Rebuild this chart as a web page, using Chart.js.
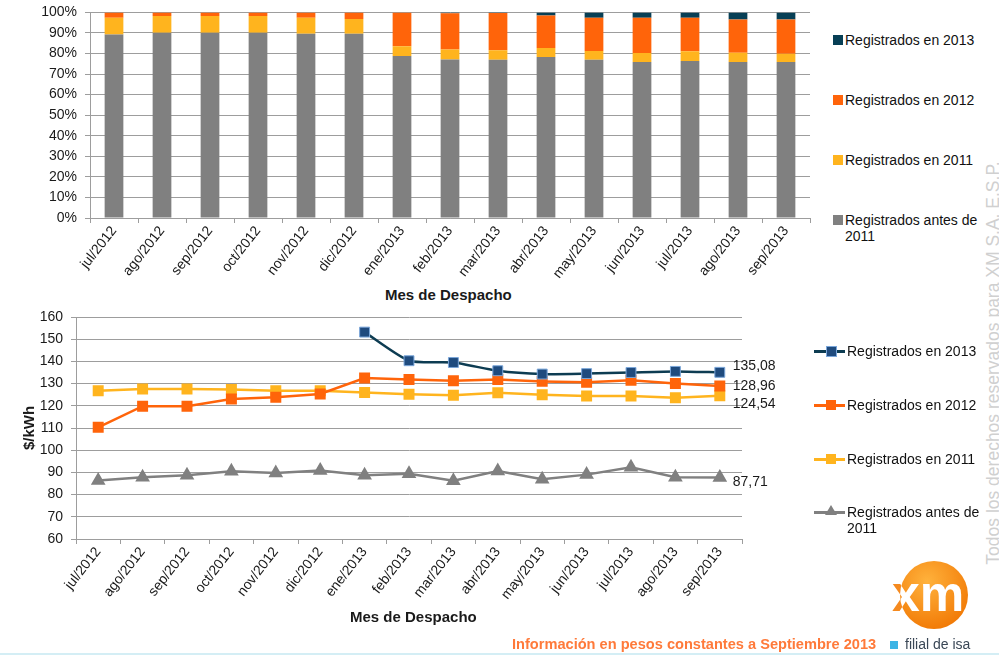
<!DOCTYPE html>
<html lang="es">
<head>
  <meta charset="UTF-8">
  <title>Registrados por año</title>
  <script src="https://cdn.jsdelivr.net/npm/chart.js"></script>
  <style>
    body { margin: 0; width: 999px; height: 656px; position: relative; overflow: hidden; background: #fff;
           font-family: 'Liberation Sans', Arial, sans-serif; color: #1a1a1a; }
    canvas { position: absolute; left: 0; }
    .abs { position: absolute; white-space: nowrap; }
    .axis-title { font-weight: bold; font-size: 15px; color: #1a1a1a; }
    .leg { position: absolute; font-size: 14px; line-height: 16px; color: #111; }
    .sq { position: absolute; width: 10px; height: 10px; }
    .ln { position: absolute; width: 31px; height: 3px; }
  </style>
</head>
<body>
  <canvas id="shareChart" width="820" height="285" style="top:-4px"></canvas>
  <div class="abs axis-title" style="left:385px;top:286px">Mes de Despacho</div>

  <!-- leyenda barras -->
  <div class="sq" style="left:833px;top:35px;background:#073f55"></div>
  <div class="leg" style="left:845px;top:32px">Registrados en 2013</div>
  <div class="sq" style="left:833px;top:95px;background:#ff640a"></div>
  <div class="leg" style="left:845px;top:92px">Registrados en 2012</div>
  <div class="sq" style="left:833px;top:155px;background:#ffb41e"></div>
  <div class="leg" style="left:845px;top:152px">Registrados en 2011</div>
  <div class="sq" style="left:833px;top:215px;background:#808080"></div>
  <div class="leg" style="left:845px;top:212px">Registrados antes de<br>2011</div>

  <canvas id="priceChart" width="820" height="340" style="top:300px"></canvas>
  <div class="abs axis-title" style="left:350px;top:608px">Mes de Despacho</div>
  <div class="abs axis-title" style="left:6px;top:420px;transform:rotate(-90deg);transform-origin:22px 8px">$/kWh</div>

  <!-- leyenda lineas -->
  <div class="ln" style="left:814px;top:350px;background:#0d3c52"></div>
  <div class="sq" style="left:826px;top:346px;background:#1f4b7e;border:1px solid #7aa6da;width:9px;height:9px"></div>
  <div class="leg" style="left:847px;top:343px">Registrados en 2013</div>
  <div class="ln" style="left:814px;top:404px;background:#ff640a"></div>
  <div class="sq" style="left:826px;top:400px;background:#ff640a"></div>
  <div class="leg" style="left:847px;top:397px">Registrados en 2012</div>
  <div class="ln" style="left:814px;top:458px;background:#ffb41e"></div>
  <div class="sq" style="left:826px;top:454px;background:#ffb41e"></div>
  <div class="leg" style="left:847px;top:451px">Registrados en 2011</div>
  <div class="ln" style="left:814px;top:511px;background:#808080"></div>
  <div class="abs" style="left:825px;top:505px;width:0;height:0;border-left:6px solid transparent;border-right:6px solid transparent;border-bottom:10px solid #808080"></div>
  <div class="leg" style="left:847px;top:504px">Registrados antes de<br>2011</div>

  <div class="abs" style="left:993px;top:363px;transform:translate(-50%,-50%) rotate(-90deg);font-size:17.5px;color:#d0d0d0">Todos los derechos reservados para XM S.A. E.S.P.</div>

  <!-- logo -->
  <svg class="abs" style="left:882px;top:555px" width="100" height="80">
    <defs>
      <radialGradient id="g" cx="0.4" cy="0.3" r="0.8">
        <stop offset="0" stop-color="#ffb23c"/>
        <stop offset="1" stop-color="#f07400"/>
      </radialGradient>
      <clipPath id="c"><circle cx="52" cy="40" r="34"/></clipPath>
    </defs>
    <circle cx="52" cy="40" r="34" fill="url(#g)"/>
    <text x="10" y="56" font-family="Liberation Sans, Arial" font-weight="bold" font-size="50" fill="#f58a1f">xm</text>
    <text x="10" y="56" font-family="Liberation Sans, Arial" font-weight="bold" font-size="50" fill="#fff" clip-path="url(#c)">xm</text>
  </svg>
  <div class="abs" style="left:512px;top:636px;font-size:14.6px;font-weight:bold;color:#ff7a3a">Información en pesos constantes a Septiembre 2013</div>
  <div class="abs" style="left:890px;top:641px;width:8px;height:8px;background:#3db4e5"></div>
  <div class="abs" style="left:905px;top:636px;font-size:14px;color:#3a4756">filial de isa</div>
  <div class="abs" style="left:0;top:653px;width:999px;height:2px;background:#d4eef5"></div>

  <script>
    const meses = ['jul/2012', 'ago/2012', 'sep/2012', 'oct/2012', 'nov/2012', 'dic/2012', 'ene/2013',
                   'feb/2013', 'mar/2013', 'abr/2013', 'may/2013', 'jun/2013', 'jul/2013', 'ago/2013', 'sep/2013'];

    // participación (%) por año de registro
    const partAntes2011 = [89.3, 90.1, 90.1, 90.1, 89.6, 89.6, 78.8, 77.1, 77.0, 78.3, 77.0, 75.9, 76.4, 75.9, 75.9];
    const part2011 = [8.1, 8.1, 8.1, 8.1, 7.8, 7.2, 4.7, 4.8, 4.6, 4.4, 4.2, 4.3, 4.7, 4.5, 4.0];
    const part2012 = [2.6, 1.8, 1.8, 1.8, 2.6, 3.2, 16.5, 17.7, 18.1, 15.8, 16.2, 17.2, 16.3, 16.2, 16.7];
    const part2013 = [0, 0, 0, 0, 0, 0, 0, 0.4, 0.3, 1.5, 2.6, 2.6, 2.6, 3.4, 3.4];

    // precios $/kWh
    const precio2013 = [null, null, null, null, null, null, 153.2, 140.3, 139.5, 135.8, 134.3, 134.5, 135.0, 135.5, 135.08];
    const precio2012 = [110.3, 119.8, 119.8, 123.1, 123.8, 125.3, 132.5, 131.8, 131.3, 131.8, 131.0, 130.6, 131.5, 130.0, 128.96];
    const precio2011 = [126.8, 127.6, 127.6, 127.3, 126.8, 126.8, 126.0, 125.2, 124.8, 125.9, 125.0, 124.4, 124.4, 123.6, 124.54];
    const precioAntes2011 = [86.3, 87.8, 88.7, 90.5, 89.7, 90.9, 88.7, 89.4, 86.2, 90.6, 86.9, 89.0, 92.3, 87.8, 87.71];

    const colores = { antes: '#808080', y2011: '#ffb41e', y2012: '#ff640a', y2013: '#073f55' };
    const gridColor = '#9d9d9d';
    const tickFont = { family: "'Liberation Sans', Arial, sans-serif", size: 14 };

    Chart.defaults.animation = false;
    Chart.defaults.color = '#1a1a1a';

    // Gráfico de barras apiladas 100%
    new Chart(document.getElementById('shareChart').getContext('2d'), {
      type: 'bar',
      data: {
        labels: meses,
        datasets: [
          { label: 'Registrados antes de 2011', data: partAntes2011, backgroundColor: colores.antes },
          { label: 'Registrados en 2011', data: part2011, backgroundColor: colores.y2011 },
          { label: 'Registrados en 2012', data: part2012, backgroundColor: colores.y2012 },
          { label: 'Registrados en 2013', data: part2013, backgroundColor: colores.y2013 }
        ]
      },
      options: {
        responsive: false,
        barPercentage: 0.39,
        categoryPercentage: 1,
        layout: { padding: { top: 8, right: 10, left: 0, bottom: 0 } },
        plugins: { legend: { display: false }, tooltip: { enabled: false } },
        scales: {
          x: {
            stacked: true,
            grid: { drawOnChartArea: false, color: gridColor, tickLength: 5, offset: true },
            border: { color: gridColor },
            ticks: { font: tickFont, minRotation: 52, maxRotation: 52, padding: 0 },
            afterFit: s => { s.height = 63; }
          },
          y: {
            stacked: true, min: 0, max: 100,
            grid: { color: gridColor, tickLength: 5 },
            border: { color: gridColor },
            ticks: { font: tickFont, stepSize: 10, padding: 8, callback: v => v + '%' },
            afterFit: s => { s.width = 90; }
          }
        }
      }
    });

    // etiquetas de valor final en las líneas
    const etiquetasFinales = {
      id: 'etiquetasFinales',
      afterDatasetsDraw(chart, args, opts) {
        const ctx = chart.ctx;
        ctx.save();
        ctx.font = "14px 'Liberation Sans', Arial, sans-serif";
        ctx.fillStyle = '#1a1a1a';
        ctx.textBaseline = 'middle';
        chart.data.datasets.forEach((ds, i) => {
          const meta = chart.getDatasetMeta(i);
          const last = meta.data[meta.data.length - 1];
          const v = ds.data[ds.data.length - 1];
          ctx.fillText(v.toFixed(2).replace('.', ','), last.x + 13, last.y + opts.offsets[i]);
        });
        ctx.restore();
      }
    };

    // Gráfico de precios
    new Chart(document.getElementById('priceChart').getContext('2d'), {
      type: 'line',
      data: {
        labels: meses,
        datasets: [
          { label: 'Registrados en 2013', data: precio2013, borderColor: '#0d3c52', backgroundColor: '#1f4b7e',
            pointBorderColor: '#7aa6da', pointBorderWidth: 1, pointStyle: 'rect', pointRadius: 7, borderWidth: 2.5, tension: 0.2 },
          { label: 'Registrados en 2012', data: precio2012, borderColor: '#ff640a', backgroundColor: '#ff640a',
            pointBorderColor: '#ff640a', pointStyle: 'rect', pointRadius: 6, borderWidth: 2.5 },
          { label: 'Registrados en 2011', data: precio2011, borderColor: '#ffb41e', backgroundColor: '#ffb41e',
            pointBorderColor: '#ffb41e', pointStyle: 'rect', pointRadius: 6, borderWidth: 2.5 },
          { label: 'Registrados antes de 2011', data: precioAntes2011, borderColor: '#808080', backgroundColor: '#808080',
            pointBorderColor: '#808080', pointStyle: 'triangle', pointRadius: 6, borderWidth: 2.5 }
        ]
      },
      options: {
        responsive: false,
        layout: { padding: { top: 17, right: 78, left: 0, bottom: 0 } },
        plugins: {
          legend: { display: false }, tooltip: { enabled: false },
          etiquetasFinales: { offsets: [-6, 0, 8, 5] }
        },
        scales: {
          x: {
            offset: true,
            grid: { drawOnChartArea: false, color: gridColor, tickLength: 5, offset: true },
            border: { color: gridColor },
            ticks: { font: tickFont, minRotation: 52, maxRotation: 52, padding: 0 },
            afterFit: s => { s.height = 101; }
          },
          y: {
            min: 60, max: 160,
            grid: { color: gridColor, tickLength: 5 },
            border: { color: gridColor },
            ticks: { font: tickFont, stepSize: 10, padding: 8 },
            afterFit: s => { s.width = 76; }
          }
        }
      },
      plugins: [etiquetasFinales]
    });
  </script>
</body>
</html>
